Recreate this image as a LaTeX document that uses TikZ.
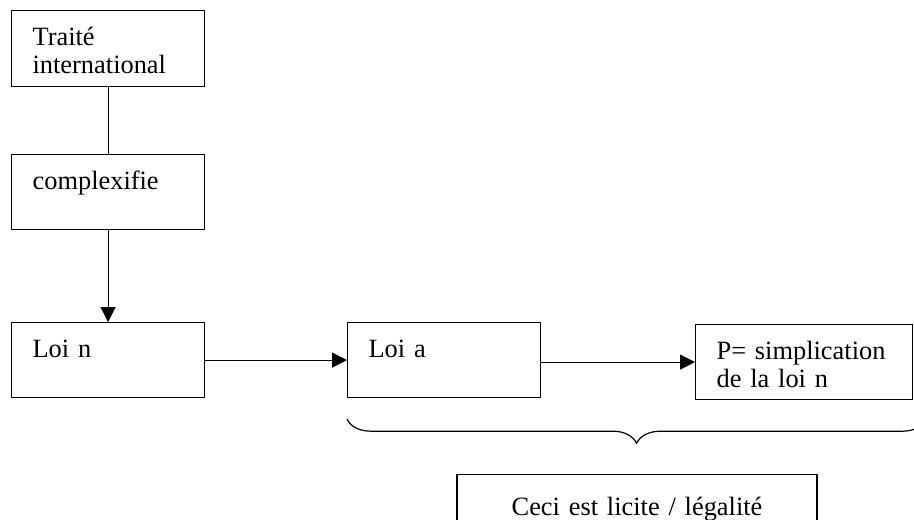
\documentclass[tikz,border=0pt]{standalone}
\usepackage{fontspec}
\setmainfont{Liberation Serif}
\usetikzlibrary{arrows.meta,positioning,calc,decorations.pathreplacing}
\tikzset{
  arr/.style={-{Triangle[length=7.5pt,width=7.5pt]},line width=.6pt},
  line/.style={line width=.6pt},
  box/.style={draw,line width=.6pt,anchor=north west,minimum width=96.5pt,text width=75.5pt,align=left,
    inner xsep=10.5pt,inner ysep=0pt,text height=17.5pt,text depth=20pt,font=\fontsize{13.2}{14}\selectfont},
  widebox/.style={box,minimum width=108.5pt,text width=87.5pt,text depth=20pt},
  notebox/.style={box,anchor=north,minimum width=180pt,text width=159pt,align=center,text height=20.5pt},
  brace/.style={decorate,decoration={brace,mirror,amplitude=12pt},line width=.6pt}
}
\begin{document}
\begin{tikzpicture}[x=.5pt,y=-.5pt]
  \useasboundingbox (0,0) rectangle (914,519);
  \node[box,text depth=20.5pt] (traite) at (11,10) {Traité\\international};
  \node[box] (complexe) at (11,154) {complexifie};
  \node[box] (loin) at (11,322) {Loi n};
  \node[box] (loia) at (347,322) {Loi a};
  \node[widebox] (simpl) at (695,324) {P= simplication\\de la loi n};
  \node[notebox] (licite) at (637,474) {Ceci est licite / légalité};

  \draw[line] (traite.south) -- (complexe.north);
  \draw[arr] (complexe.south) -- (loin.north);
  \draw[arr] (loin.east) -- (loia.west);
  \draw[arr] (loia.east |- simpl.west) -- (simpl.west);
  \draw[brace] ($(loia.south west)+(0,21)$) -- ($(simpl.south east)+(13,19)$);
\end{tikzpicture}
\end{document}
